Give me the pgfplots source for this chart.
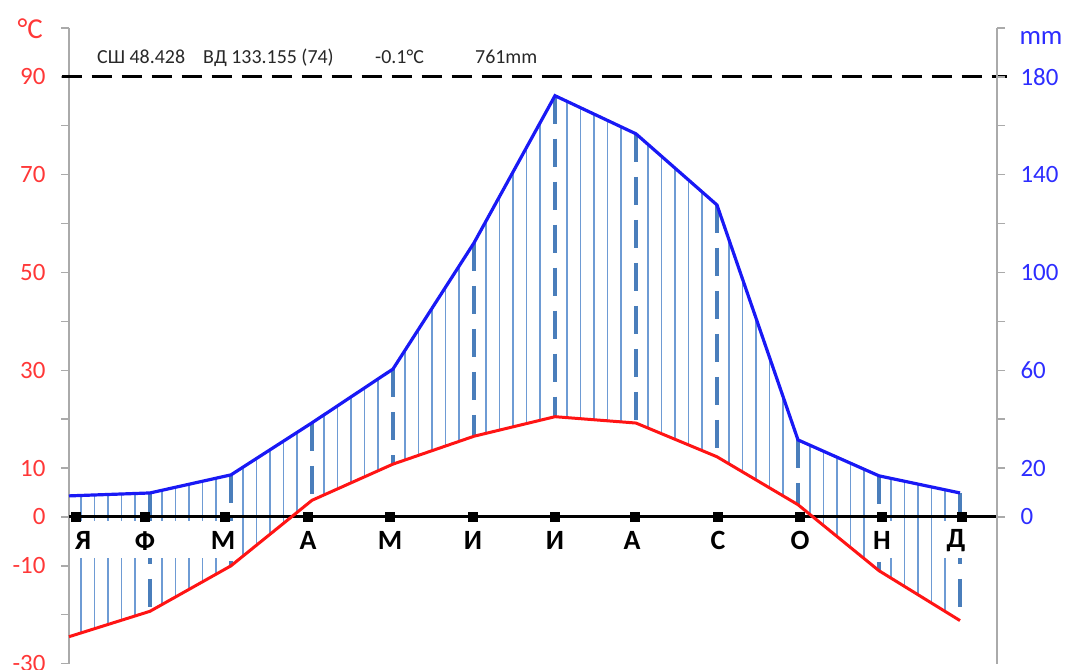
\documentclass[border=0pt]{standalone}
\usepackage{fontspec}
\setmainfont{Carlito}
\usepackage{pgfplots}
\usepackage{pgfplotstable}
\pgfplotsset{compat=1.18}
\usepgfplotslibrary{fillbetween}
\usetikzlibrary{patterns.meta,calc}

\definecolor{tempred}{RGB}{255,20,20}
\definecolor{precblue}{RGB}{25,25,245}
\definecolor{hatchblue}{RGB}{110,155,212}
\definecolor{monthblue}{RGB}{74,126,187}
\definecolor{spinegray}{RGB}{170,170,170}
\definecolor{lblred}{RGB}{255,55,55}
\definecolor{lblblue}{RGB}{45,45,255}
\definecolor{hdrgray}{RGB}{40,40,40}

% monthly mean temperature (C) and precipitation (mm)
\pgfplotstableread{
x  t      p
0  -24.5  8.6
1  -19.3  9.8
2  -10.0  17.2
3   3.4   38.5
4  10.8   60.5
5  16.5   112.1
6  20.5   172.3
7  19.2   156.7
8  12.3   127.6
9   2.5   31.5
10 -11.0  16.8
11 -21.2  9.8
}\climate

% month marker positions on the zero line
\pgfplotstableread{
tx     ty
0.086  0
0.938  0
1.926  0
2.951  0
3.963  0
4.988  0
6.000  0
6.988  0
8.012  0
9.025  0
10.037 0
11.025 0
}\monthpos

% white patch behind a month name
\newcommand\labelbox[1]{%
  \fill[white] (axis cs:#1-0.2,-0.9) rectangle (axis cs:#1+0.2,-8.3);}
% month name
\newcommand\monthname[2]{%
  \node[font=\bfseries\fontsize{28}{28}\selectfont, inner sep=0pt]
    at (axis cs:#1,-4.9) {#2};}

\begin{document}
\begin{tikzpicture}
\begin{axis}[
  name=ax, at={(0,0)}, anchor=south west,
  scale only axis, width=928bp, height=635.6bp,
  xmin=0, xmax=11.457, ymin=-30, ymax=100,
  axis x line=none, axis y line*=left,
  y axis line style={spinegray, line width=1.6bp, -},
  ytick={-30,-10,0,10,30,50,70,90},
  minor ytick={-20,20,40,60,80,100},
  tick align=outside, major tick length=8bp, minor tick length=8bp,
  every major tick/.append style={spinegray, line width=1.4bp},
  every minor tick/.append style={spinegray, line width=1.4bp},
  yticklabel style={text=lblred, font=\fontsize{25}{25}\selectfont, xshift=-12bp},
  /pgf/number format/assume math mode=true,
  clip=false,
]
% curve paths used for the hatched area
\addplot[draw=none, name path=P] table[x=x, y expr=\thisrow{p}/2]{\climate};
\addplot[draw=none, name path=T] table[x=x, y=t]{\climate};
\addplot[draw=none, pattern={Lines[angle=90, distance=13.5bp, line width=1.2bp]},
  pattern color=hatchblue] fill between[of=P and T];

% dashed verticals at each month (Feb-Dec), on a white channel
\addplot[draw=none, mark=none, skip coords between index={0}{1},
  error bars/.cd, y dir=minus, y explicit, error mark=none,
  error bar style={draw=white, line width=13bp}]
  table[x=x, y expr=\thisrow{p}/2, y error expr=\thisrow{p}/2-\thisrow{t}]{\climate};
\addplot[draw=none, mark=none, skip coords between index={0}{1},
  error bars/.cd, y dir=minus, y explicit, error mark=none,
  error bar style={draw=monthblue, line width=3.8bp, dash pattern=on 28bp off 15bp}]
  table[x=x, y expr=\thisrow{p}/2, y error expr=\thisrow{p}/2-\thisrow{t}]{\climate};

% blank patches behind the month names
\fill[white] (axis cs:0.015,-0.9) rectangle (axis cs:1.75,-8.3);
\labelbox{2.951}
\labelbox{3.963}
\labelbox{4.988}
\labelbox{6.000}
\labelbox{6.951}
\labelbox{8.012}
\labelbox{9.025}
\labelbox{10.037}
\labelbox{10.951}
\labelbox{1.901}

% 90 C / 180 mm reference line
\addplot[black, line width=2.8bp, dash pattern=on 20bp off 10bp]
  coordinates {(-0.09,90) (11.58,90)};

% zero line with month markers
\addplot[black, line width=3bp] coordinates {(0,0) (11.457,0)};
\addplot[only marks, mark=square*, mark size=4.5bp, black]
  table[x=tx, y=ty]{\monthpos};

% temperature and precipitation curves
\addplot[tempred, line width=3bp] table[x=x, y=t]{\climate};
\addplot[precblue, line width=3.2bp] table[x=x, y expr=\thisrow{p}/2]{\climate};

% month names
\monthname{0.173}{Я}
\monthname{0.938}{Ф}
\monthname{1.901}{М}
\monthname{2.951}{А}
\monthname{3.963}{М}
\monthname{4.988}{И}
\monthname{6.000}{И}
\monthname{6.951}{А}
\monthname{8.012}{С}
\monthname{9.025}{О}
\monthname{10.037}{Н}
\monthname{10.951}{Д}

% header
\node[font=\fontsize{20}{20}\selectfont, text=hdrgray, anchor=base west, inner sep=0pt] at (axis cs:0.346,92.8) {СШ 48.428};
\node[font=\fontsize{20}{20}\selectfont, text=hdrgray, anchor=base west, inner sep=0pt] at (axis cs:1.654,92.8) {ВД 133.155 (74)};
\node[font=\fontsize{20}{20}\selectfont, text=hdrgray, anchor=base west, inner sep=0pt] at (axis cs:3.778,92.8) {-0.1°C};
\node[font=\fontsize{20}{20}\selectfont, text=hdrgray, anchor=base west, inner sep=0pt] at (axis cs:5.012,92.8) {761mm};
\node[font=\fontsize{29}{29}\selectfont, text=lblred, inner sep=0pt] at (axis cs:-0.48,99.8) {°C};
\node[font=\fontsize{27}{27}\selectfont, text=lblblue, inner sep=0pt] at (axis cs:12.0,98.0) {mm};
\end{axis}

% precipitation scale on the right
\begin{axis}[
  at={(0,0)}, anchor=south west,
  scale only axis, width=928bp, height=635.6bp,
  xmin=0, xmax=11.457, ymin=-60, ymax=200,
  axis x line=none, axis y line*=right,
  y axis line style={spinegray, line width=1.6bp, -},
  ytick={0,20,60,100,140,180},
  minor ytick={40,80,120,160,200},
  tick align=outside, major tick length=8bp, minor tick length=8bp,
  every major tick/.append style={spinegray, line width=1.4bp},
  every minor tick/.append style={spinegray, line width=1.4bp},
  yticklabel style={text=lblblue, font=\fontsize{25}{25}\selectfont, xshift=12bp},
  /pgf/number format/assume math mode=true,
]
\addplot[draw=none] coordinates {(0,0)};
\end{axis}

\pgfresetboundingbox
\path[use as bounding box] ($(ax.south west)+(-69bp,-6.3bp)$) rectangle ($(ax.north east)+(71bp,28bp)$);
\end{tikzpicture}
\end{document}
